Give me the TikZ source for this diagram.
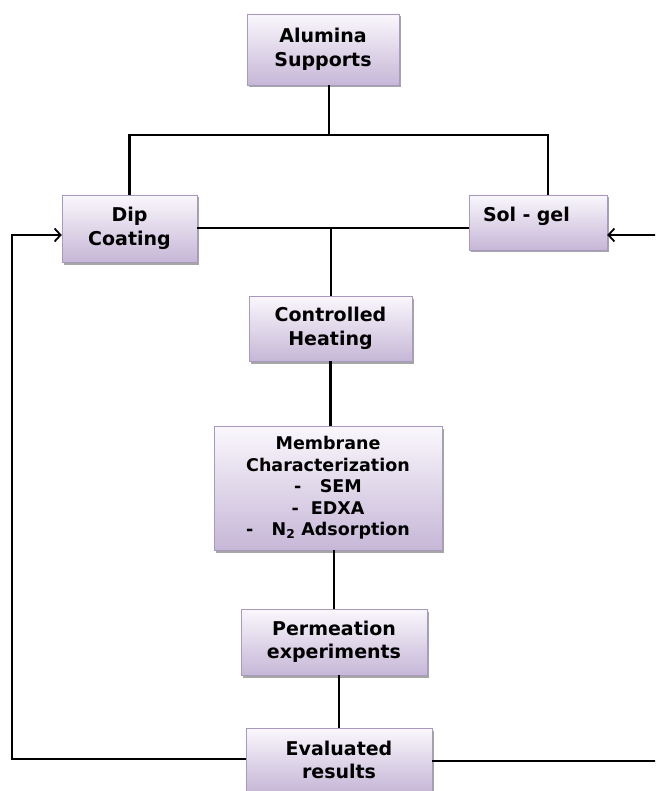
\documentclass[tikz,border=0pt]{standalone}
\usepackage{fontspec}
\setmainfont{DejaVu Sans}
\usepackage{tikz}
\usetikzlibrary{shadows,arrows.meta}
\definecolor{lavtop}{RGB}{250,247,252}
\definecolor{lavbot}{RGB}{198,183,215}
\definecolor{lavline}{RGB}{168,153,190}
\tikzstyle{stage} = [draw=lavline, top color=lavtop, bottom color=lavbot, inner sep=0pt,
  drop shadow={shadow xshift=2pt, shadow yshift=-2.5pt, fill=black!35, opacity=1},
  font={\bfseries\fontsize{19}{23.5}\selectfont}, align=center]
\tikzstyle{link} = [line width=2.2pt, black]
\tikzstyle{back} = [link, ->, >={Straight Barb[length=6pt,width=13pt,line width=1.8pt]}]

\begin{document}
\begin{tikzpicture}[x=1pt,y=-1pt]
    \clip (0,0) rectangle (655,791);
    \fill[white] (0,0) rectangle (655,791);
    \node[stage,minimum width=152pt,minimum height=71pt](alumina) at (323,49.5){Alumina\\Supports};
    \node[stage,minimum width=135pt,minimum height=67pt](dip) at (129.5,228.5){Dip\\Coating};
    \node[stage,minimum width=138pt,minimum height=55pt,inner xsep=14pt,text width=110pt,
      align=left,text height=27pt,text depth=28pt](solgel) at (538,222.5){Sol - gel};
    \node[stage,minimum width=163pt,minimum height=65pt](heating) at (330.5,328.5){Controlled\\Heating};
    \node[stage,minimum width=228pt,minimum height=124pt,
      font={\bfseries\fontsize{17.5}{21.5}\selectfont}](membrane) at (328,488)
      {Membrane\\Characterization\\-~~~SEM\\-~~EDXA\\-~~~N\textsubscript{2} Adsorption};
    \node[stage,minimum width=186pt,minimum height=66pt](perm) at (334,642){Permeation\\experiments};
    \node[stage,minimum width=186pt,minimum height=64pt](eval) at (339,760){Evaluated\\results};
    \coordinate (split) at (329,135);
    \coordinate (join) at (331,228);
    \coordinate (fbleft) at (12,759);
    \coordinate (fbright) at (658,761);
    \draw[link] (split) -- (split |- alumina.south);
    \draw[link] (dip.north) |- (split) -| (548,0 |- solgel.north);
    \draw[link] (dip.east |- join) -- (solgel.west |- join);
    \draw[link] (join) -- (join |- heating.north);
    \draw[link] (heating.south) -- (heating.south |- membrane.north);
    \draw[link] (perm.north) -- (perm.north |- membrane.south);
    \draw[link] (eval.north) -- (eval.north |- perm.south);
    \draw[back] (eval.west |- fbleft) -- (fbleft) |- (dip.west |- 0,235);
    \draw[back] (eval.east |- fbright) -- (fbright) |- (solgel.east |- 0,235);
  \end{tikzpicture}
\end{document}
